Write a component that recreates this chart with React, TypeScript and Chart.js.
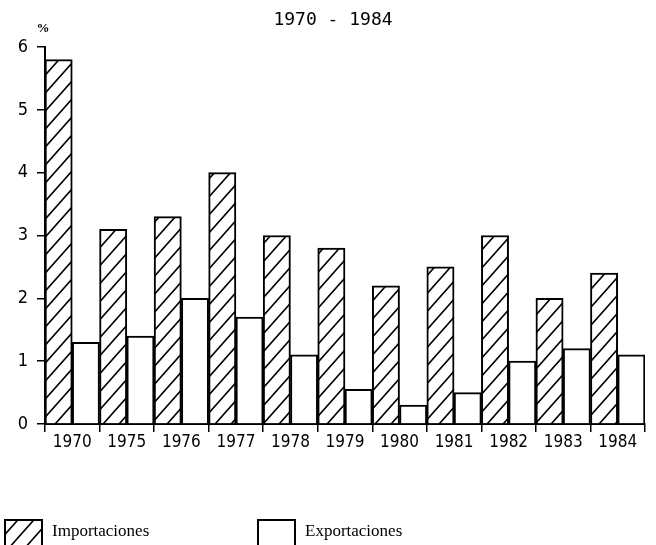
import React, { useEffect, useRef } from "react";
import { Chart, registerables } from "chart.js";

Chart.register(...registerables);

const years = ["1970", "1975", "1976", "1977", "1978", "1979", "1980", "1981", "1982", "1983", "1984"];
const importaciones = [5.8, 3.1, 3.3, 4.0, 3.0, 2.8, 2.2, 2.5, 3.0, 2.0, 2.4];
const exportaciones = [1.3, 1.4, 2.0, 1.7, 1.1, 0.55, 0.3, 0.5, 1.0, 1.2, 1.1];
const yMin = 0;
const yMax = 6;
const yStep = 1;
const titleText = "1970 - 1984";
const unitText = "%";
const legendLabels = ["Importaciones", "Exportaciones"];

const TICK_FONT = "'DejaVu Sans Condensed', 'Liberation Sans', sans-serif";

function makeHatch(): CanvasPattern | string {
  const c = document.createElement("canvas");
  const w = 16;
  const h = 18;
  c.width = w;
  c.height = h;
  const ctx = c.getContext("2d");
  if (!ctx) return "#fff";
  ctx.fillStyle = "#fff";
  ctx.fillRect(0, 0, w, h);
  ctx.strokeStyle = "#000";
  ctx.lineWidth = 1.6;
  ctx.beginPath();
  for (const dx of [-w, 0, w]) {
    ctx.moveTo(dx - 2, h + (2 * h) / w);
    ctx.lineTo(dx + w + 2, -(2 * h) / w);
  }
  ctx.stroke();
  const p = ctx.createPattern(c, "repeat");
  return p || "#fff";
}

export default function App() {
  const ref = useRef<HTMLCanvasElement | null>(null);

  useEffect(() => {
    if (!ref.current) return;
    const hatch = makeHatch();

    const decor = {
      id: "decor",
      afterDraw(chart: any) {
        const ctx = chart.ctx as CanvasRenderingContext2D;
        ctx.save();
        ctx.fillStyle = "#000";
        ctx.strokeStyle = "#000";
        // title
        ctx.font = "18px 'DejaVu Sans Mono', monospace";
        ctx.textAlign = "center";
        ctx.textBaseline = "alphabetic";
        ctx.fillText(titleText, 333, 25);
        // unit label at top of y axis
        ctx.font = "bold 13px 'Liberation Serif', serif";
        ctx.fillText(unitText, chart.chartArea.left - 2, 32);
        // legend
        const boxes = [
          { x: 5, fill: hatch, label: legendLabels[0], tx: 52 },
          { x: 258, fill: "#fff", label: legendLabels[1], tx: 305 },
        ];
        ctx.font = "17px 'Liberation Serif', serif";
        ctx.textAlign = "left";
        for (const b of boxes) {
          ctx.fillStyle = b.fill as any;
          ctx.fillRect(b.x, 520, 37, 30);
          ctx.lineWidth = 2;
          ctx.strokeStyle = "#000";
          ctx.beginPath();
          ctx.moveTo(b.x, 550);
          ctx.lineTo(b.x, 520);
          ctx.lineTo(b.x + 37, 520);
          ctx.lineTo(b.x + 37, 550);
          ctx.stroke();
          ctx.fillStyle = "#000";
          ctx.fillText(b.label, b.tx, 536);
        }
        ctx.restore();
      },
    };

    const chart = new Chart(ref.current, {
      type: "bar",
      data: {
        labels: years,
        datasets: [
          {
            label: legendLabels[0],
            data: importaciones,
            backgroundColor: hatch as any,
            borderColor: "#000",
            borderWidth: 2,
            barPercentage: 1,
            categoryPercentage: 1,
          },
          {
            label: legendLabels[1],
            data: exportaciones,
            backgroundColor: "#fff",
            borderColor: "#000",
            borderWidth: 2,
            barPercentage: 1,
            categoryPercentage: 1,
          },
        ],
      },
      options: {
        responsive: false,
        animation: false,
        layout: { padding: { top: 47, right: 11, bottom: 81, left: 0 } },
        plugins: {
          legend: { display: false },
          title: { display: false },
          tooltip: { enabled: false },
        },
        scales: {
          x: {
            offset: true,
            grid: {
              display: true,
              drawOnChartArea: false,
              drawTicks: true,
              tickLength: 8,
              color: "#000",
              lineWidth: 1.5,
              offset: true,
            },
            border: { color: "#000", width: 2 },
            ticks: {
              color: "#000",
              font: { family: TICK_FONT, size: 17 },
              padding: 0,
              maxRotation: 0,
              autoSkip: false,
            },
            afterFit: (s: any) => {
              s.height = 40;
            },
          },
          y: {
            min: yMin,
            max: yMax,
            grid: {
              display: true,
              drawOnChartArea: false,
              drawTicks: true,
              tickLength: 8,
              color: "#000",
              lineWidth: 1.5,
            },
            border: { color: "#000", width: 2 },
            ticks: {
              stepSize: yStep,
              color: "#000",
              font: { family: TICK_FONT, size: 18 },
              padding: 9,
            },
            afterFit: (s: any) => {
              s.width = 45;
            },
          },
        },
      },
      plugins: [decor],
    });
    return () => chart.destroy();
  }, []);

  return (
    <div style={{ position: "absolute", left: 0, top: 0, width: 656, height: 545, background: "#fff" }}>
      <canvas ref={ref} width={656} height={545} style={{ display: "block" }} />
    </div>
  );
}
